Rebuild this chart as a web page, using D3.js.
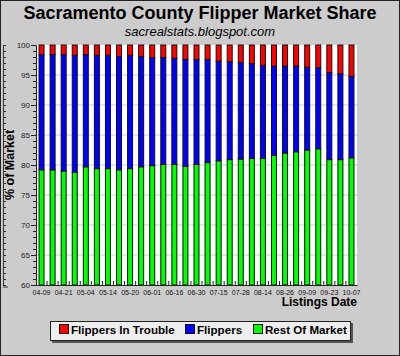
<!DOCTYPE html>
<html>
<head>
<meta charset="utf-8">
<script src="https://cdn.jsdelivr.net/npm/d3@7"></script>
<style>
  html, body { margin: 0; padding: 0; background: #cccccc; }
  svg { display: block; }
  text { font-family: "Liberation Sans", Arial, sans-serif; }
</style>
</head>
<body>
<svg id="chart" width="400" height="356"></svg>
<script>
// ---- data ----
const categories = d3.range(29); // weekly listing snapshots, every other one labelled
const tickLabels = ["04-09","04-21","05-04","05-14","05-20","06-01","06-16","06-30",
                    "07-15","07-28","08-14","08-26","09-09","09-23","10-07"];
const restOfMarket = [79.2,79.2,79.0,78.8,79.7,79.4,79.4,79.2,79.4,79.7,79.9,80.1,80.1,79.8,80.1,
                      80.4,80.7,80.9,81.0,81.1,81.1,81.6,82.0,82.2,82.5,82.7,80.9,80.9,81.2];
const flippers     = [19.2,19.2,19.4,19.5,18.7,18.9,18.9,18.9,18.9,18.4,18.0,17.8,17.7,17.8,17.5,
                      17.2,16.6,16.3,16.1,15.8,15.5,14.9,14.5,14.3,13.8,13.5,14.5,14.3,13.6];
const inTrouble    = [1.6,1.6,1.6,1.7,1.6,1.7,1.7,1.9,1.7,1.9,2.1,2.1,2.2,2.4,2.4,
                      2.4,2.7,2.8,2.9,3.1,3.4,3.5,3.5,3.5,3.7,3.8,4.6,4.8,5.2];
const seriesNames  = ["Flippers In Trouble","Flippers","Rest Of Market"];
const seriesColors = ["#ff0000","#0000ff","#00ff00"];
const yTicks = [60,65,70,75,80,85,90,95,100];

// ---- layout ----
const svg = d3.select("#chart");
const W = 400, H = 356;
const L = 36, R = 357, T = 45, B = 285;

svg.append("rect").attr("x",0.5).attr("y",0.5).attr("width",W-1).attr("height",H-1)
  .attr("fill","#cccccc").attr("stroke","#222").attr("stroke-width",1);

// title
svg.append("text").attr("x",200).attr("y",19).attr("text-anchor","middle")
  .attr("font-size",18).attr("font-weight","bold").attr("fill","#000")
  .text("Sacramento County Flipper Market Share");
svg.append("text").attr("x",200).attr("y",36).attr("text-anchor","middle")
  .attr("font-size",13).attr("font-style","italic").attr("fill","#000")
  .text("sacrealstats.blogspot.com");

const x = d3.scaleBand().domain(categories).range([L,R]).padding(0);
const y = d3.scaleLinear().domain([60,100]).range([B,T]);

// plot background
svg.append("rect").attr("x",L).attr("y",T).attr("width",R-L).attr("height",B-T).attr("fill","#ffffff");

// grid
svg.append("g").selectAll("line").data(yTicks.filter(v => v>60 && v<100)).join("line")
  .attr("x1",L).attr("x2",R).attr("y1",d=>y(d)).attr("y2",d=>y(d))
  .attr("stroke","#dddddd").attr("stroke-width",1.5);

// stacked bars
const rows = categories.map((c,i) => ({cat:c, rest:restOfMarket[i], flip:flippers[i], trouble:inTrouble[i]}));
const stack = d3.stack().keys(["rest","flip","trouble"]);
const stacked = stack(rows);
const colorByKey = {rest:seriesColors[2], flip:seriesColors[1], trouble:seriesColors[0]};
const bw = 6;
svg.append("g").selectAll("g").data(stacked).join("g")
  .attr("fill", d => colorByKey[d.key])
  .selectAll("rect").data(d => d).join("rect")
  .attr("x", d => x(d.data.cat) + x.bandwidth()/2 - bw/2 + 0.5)
  .attr("width", bw-1)
  .attr("y", d => y(Math.min(100, d[1])))
  .attr("height", d => Math.max(0, y(Math.max(60,d[0])) - y(Math.min(100,d[1]))))
  .attr("stroke","#111").attr("stroke-width",1);

// y axis
const yAxis = svg.append("g").attr("transform",`translate(${L},0)`)
  .call(d3.axisLeft(y).tickValues(yTicks).tickSize(5).tickPadding(1));
yAxis.selectAll("text").attr("font-size",8).attr("fill","#222")
  .attr("font-family","Liberation Sans, Arial, sans-serif");
yAxis.select(".domain").attr("stroke","#222");
yAxis.selectAll(".tick line").attr("stroke","#222");
svg.append("g").attr("transform",`translate(${L},0)`)
  .call(d3.axisLeft(y).ticks(40).tickSize(3).tickFormat(""))
  .call(g => g.select(".domain").remove())
  .selectAll("line").attr("stroke","#222");

// left ruler
const ruler = svg.append("g").attr("transform","translate(3,0)")
  .call(d3.axisRight(y).ticks(40).tickSize(3).tickFormat(""));
ruler.selectAll("line").attr("stroke","#333");
ruler.select(".domain").attr("stroke","#333");
svg.append("line").attr("x1",3).attr("x2",8).attr("y1",B+2).attr("y2",B+2).attr("stroke","#333");

// x axis
const xAxis = svg.append("g").attr("transform",`translate(0,${B})`)
  .call(d3.axisBottom(x).tickValues(categories.filter(c => c%2===0))
        .tickFormat(c => tickLabels[c/2]).tickSize(0).tickPadding(5));
xAxis.select(".domain").attr("stroke","#222");
xAxis.selectAll("text").attr("font-size",7).attr("fill","#111");
// band boundary ticks pointing up
svg.append("g").selectAll("line").data(categories.slice(1)).join("line")
  .attr("x1",d=>x(d)).attr("x2",d=>x(d)).attr("y1",B).attr("y2",B-4)
  .attr("stroke","#222");

// axis titles
svg.append("text").attr("x",R).attr("y",306).attr("text-anchor","end")
  .attr("font-size",12).attr("font-weight","bold").text("Listings Date");
svg.append("text").attr("transform",`translate(14,${(T+B)/2}) rotate(-90)`)
  .attr("text-anchor","middle").attr("font-size",12.5).attr("font-weight","bold")
  .text("% of Market");

// legend
const lg = svg.append("g");
lg.append("rect").attr("x",52).attr("y",323).attr("width",301).attr("height",20).attr("fill","#555");
lg.append("rect").attr("x",50.5).attr("y",321.5).attr("width",300).attr("height",19)
  .attr("fill","#eeeeee").attr("stroke","#222");
const legendX = [59, 185, 253];
seriesNames.forEach((name,i) => {
  lg.append("rect").attr("x",legendX[i]+0.5).attr("y",324.5).attr("width",9).attr("height",9)
    .attr("fill",seriesColors[i]).attr("stroke","#111");
  lg.append("text").attr("x",legendX[i]+12).attr("y",334).attr("font-size",11.6)
    .attr("font-weight","bold").text(name);
});
</script>
</body>
</html>
